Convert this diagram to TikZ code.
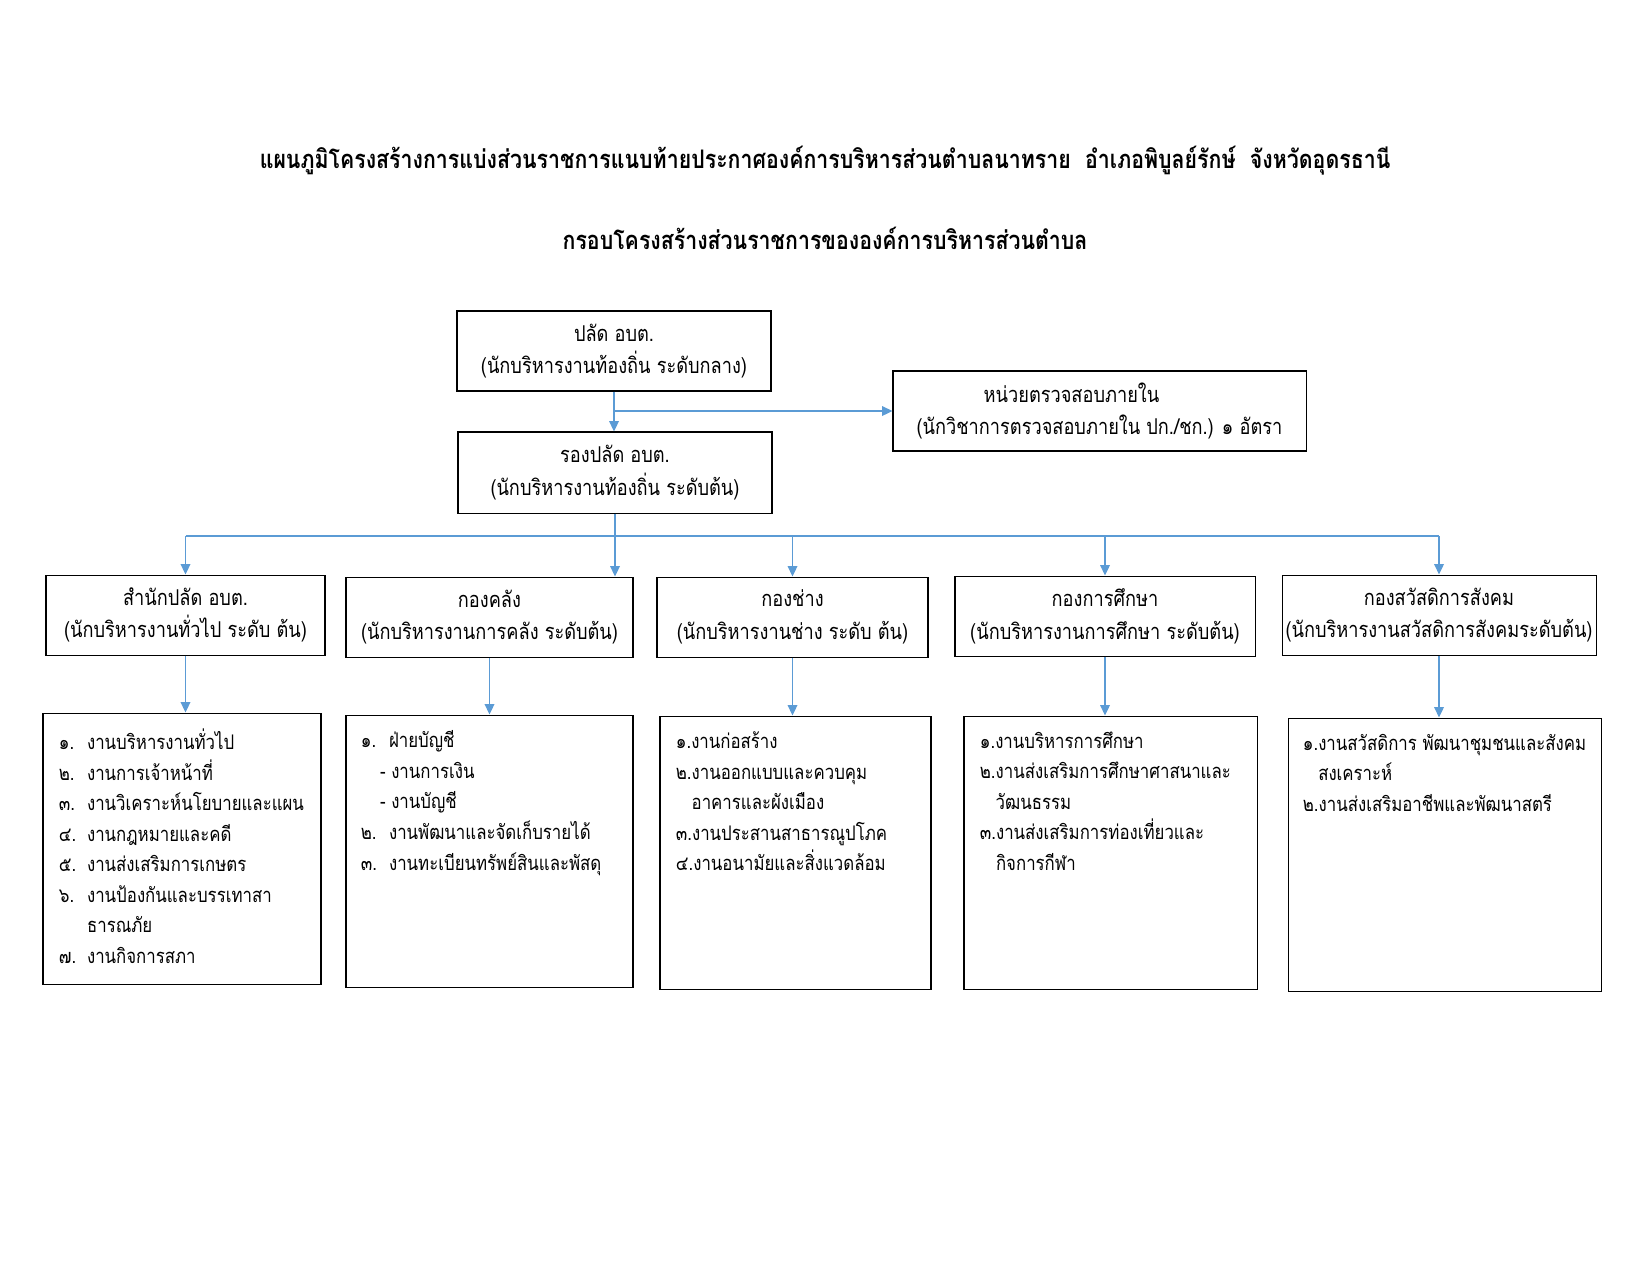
\documentclass[tikz,border=0pt]{standalone}
\usepackage{fontspec}
\newfontfamily\thai[Script=Thai, FakeStretch=0.835]{Loma}
\usetikzlibrary{arrows.meta,positioning,calc}
\definecolor{linkblue}{RGB}{91,155,213}
\newlength{\pxu}
\setlength{\pxu}{0.4818pt}
\newcommand{\listno}[1]{\makebox[1.4em][l]{#1}}

\begin{document}
\begin{tikzpicture}[
    x=0.4818pt, y=-0.4818pt,
    every node/.style={font=\thai\fontsize{10.5}{15.8}\selectfont},
    unit/.style={draw, rectangle, line width=0.5pt, align=center,
        inner sep=0pt, minimum height=80\pxu},
    listbox/.style={draw, rectangle, line width=0.5pt, inner sep=0pt},
    listtext/.style={align=left, inner sep=0pt,
        font=\thai\fontsize{9.7}{14.7}\selectfont},
    title/.style={font=\thai\bfseries\fontsize{12.3}{14}\selectfont},
    arrow/.style={-{Triangle[length=5pt, width=4.6pt]}, linkblue, line width=0.8pt},
]
\useasboundingbox (0,0) rectangle (1650,1275);

% ===== TITLES =====
\node[title] (title1) at (825, 161) {แผนภูมิโครงสร้างการแบ่งส่วนราชการแนบท้ายประกาศองค์การบริหารส่วนตำบลนาทราย~~อำเภอพิบูลย์รักษ์~~จังหวัดอุดรธานี};
\node[title] (title2) at (825, 238) {กรอบโครงสร้างส่วนราชการขององค์การบริหารส่วนตำบล};

% ===== TOP LEVEL =====
\node[unit, minimum width=314\pxu] (top) at (614, 351) {ปลัด อบต.\\(นักบริหารงานท้องถิ่น ระดับกลาง)};
\node[unit, minimum width=413\pxu] (audit) at (1099.5, 411) {หน่วยตรวจสอบภายใน\hspace*{27pt}\\(นักวิชาการตรวจสอบภายใน ปก./ชก.) ๑ อัตรา};
\node[unit, minimum width=314\pxu, minimum height=81\pxu] (deputy) at (615, 472.5) {รองปลัด อบต.\\(นักบริหารงานท้องถิ่น ระดับต้น)};

\draw[arrow] (top.south) -- (top.south |- deputy.north);
\draw[arrow] (top.south |- audit.west) -- (audit.west);

% ===== DIVISIONS =====
\node[unit, minimum width=279\pxu] (unitA) at (185.5, 615) {สำนักปลัด อบต.\\(นักบริหารงานทั่วไป ระดับ ต้น)};
\node[unit, minimum width=287\pxu] (unitB) at (489.5, 617) {กองคลัง\\(นักบริหารงานการคลัง ระดับต้น)};
\node[unit, minimum width=271\pxu] (unitC) at (792.5, 617) {กองช่าง\\(นักบริหารงานช่าง ระดับ ต้น)};
\node[unit, minimum width=300\pxu] (unitD) at (1105, 616) {กองการศึกษา\\(นักบริหารงานการศึกษา ระดับต้น)};
\node[unit, minimum width=314\pxu] (unitE) at (1439, 615) {กองสวัสดิการสังคม\\(นักบริหารงานสวัสดิการสังคมระดับต้น)};

\coordinate (bus) at (0, 536);
\draw[linkblue, line width=0.8pt] (unitA.north |- bus) -- (unitE.north |- bus);
\draw[arrow] (deputy.south) -- (deputy.south |- unitB.north);
\draw[arrow] (unitA.north |- bus) -- (unitA.north);
\draw[arrow] (unitC.north |- bus) -- (unitC.north);
\draw[arrow] (unitD.north |- bus) -- (unitD.north);
\draw[arrow] (unitE.north |- bus) -- (unitE.north);

% ===== TASK LISTS =====
\node[listbox, minimum width=278\pxu, minimum height=271\pxu] (listA) at (182, 848.5) {};
\node[listbox, minimum width=287\pxu, minimum height=272\pxu] (listB) at (489.5, 851) {};
\node[listbox, minimum width=271\pxu, minimum height=273\pxu] (listC) at (795.5, 852.5) {};
\node[listbox, minimum width=293\pxu, minimum height=273\pxu] (listD) at (1110.5, 852.5) {};
\node[listbox, minimum width=313\pxu, minimum height=273\pxu] (listE) at (1444.5, 854.5) {};

\node[listtext, below right=16\pxu and 16\pxu of listA.north west] (textA) {%
\listno{๑.}งานบริหารงานทั่วไป\\
\listno{๒.}งานการเจ้าหน้าที่\\
\listno{๓.}งานวิเคราะห์นโยบายและแผน\\
\listno{๔.}งานกฎหมายและคดี\\
\listno{๕.}งานส่งเสริมการเกษตร\\
\listno{๖.}งานป้องกันและบรรเทาสา\\
\listno{}ธารณภัย\\
\listno{๗.}งานกิจการสภา};
\node[listtext, below right=16\pxu and 15\pxu of listB.north west] (textB) {%
\listno{๑.}ฝ่ายบัญชี\\
\hspace*{0.95em}- งานการเงิน\\
\hspace*{0.95em}- งานบัญชี\\
\listno{๒.}งานพัฒนาและจัดเก็บรายได้\\
\listno{๓.}งานทะเบียนทรัพย์สินและพัสดุ};
\node[listtext, below right=16\pxu and 16\pxu of listC.north west] (textC) {%
๑.งานก่อสร้าง\\
๒.งานออกแบบและควบคุม\\
\hphantom{๒.}อาคารและผังเมือง\\
๓.งานประสานสาธารณูปโภค\\
๔.งานอนามัยและสิ่งแวดล้อม};
\node[listtext, below right=16\pxu and 16\pxu of listD.north west] (textD) {%
๑.งานบริหารการศึกษา\\
๒.งานส่งเสริมการศึกษาศาสนาและ\\
\hphantom{๒.}วัฒนธรรม\\
๓.งานส่งเสริมการท่องเที่ยวและ\\
\hphantom{๓.}กิจการกีฬา};
\node[listtext, below right=16\pxu and 15\pxu of listE.north west] (textE) {%
๑.งานสวัสดิการ พัฒนาชุมชนและสังคม\\
\hphantom{๑.}สงเคราะห์\\
๒.งานส่งเสริมอาชีพและพัฒนาสตรี};

\draw[arrow] (unitA.south) -- (unitA.south |- listA.north);
\draw[arrow] (unitB.south) -- (unitB.south |- listB.north);
\draw[arrow] (unitC.south) -- (unitC.south |- listC.north);
\draw[arrow] (unitD.south) -- (unitD.south |- listD.north);
\draw[arrow] (unitE.south) -- (unitE.south |- listE.north);

\end{tikzpicture}
\end{document}
